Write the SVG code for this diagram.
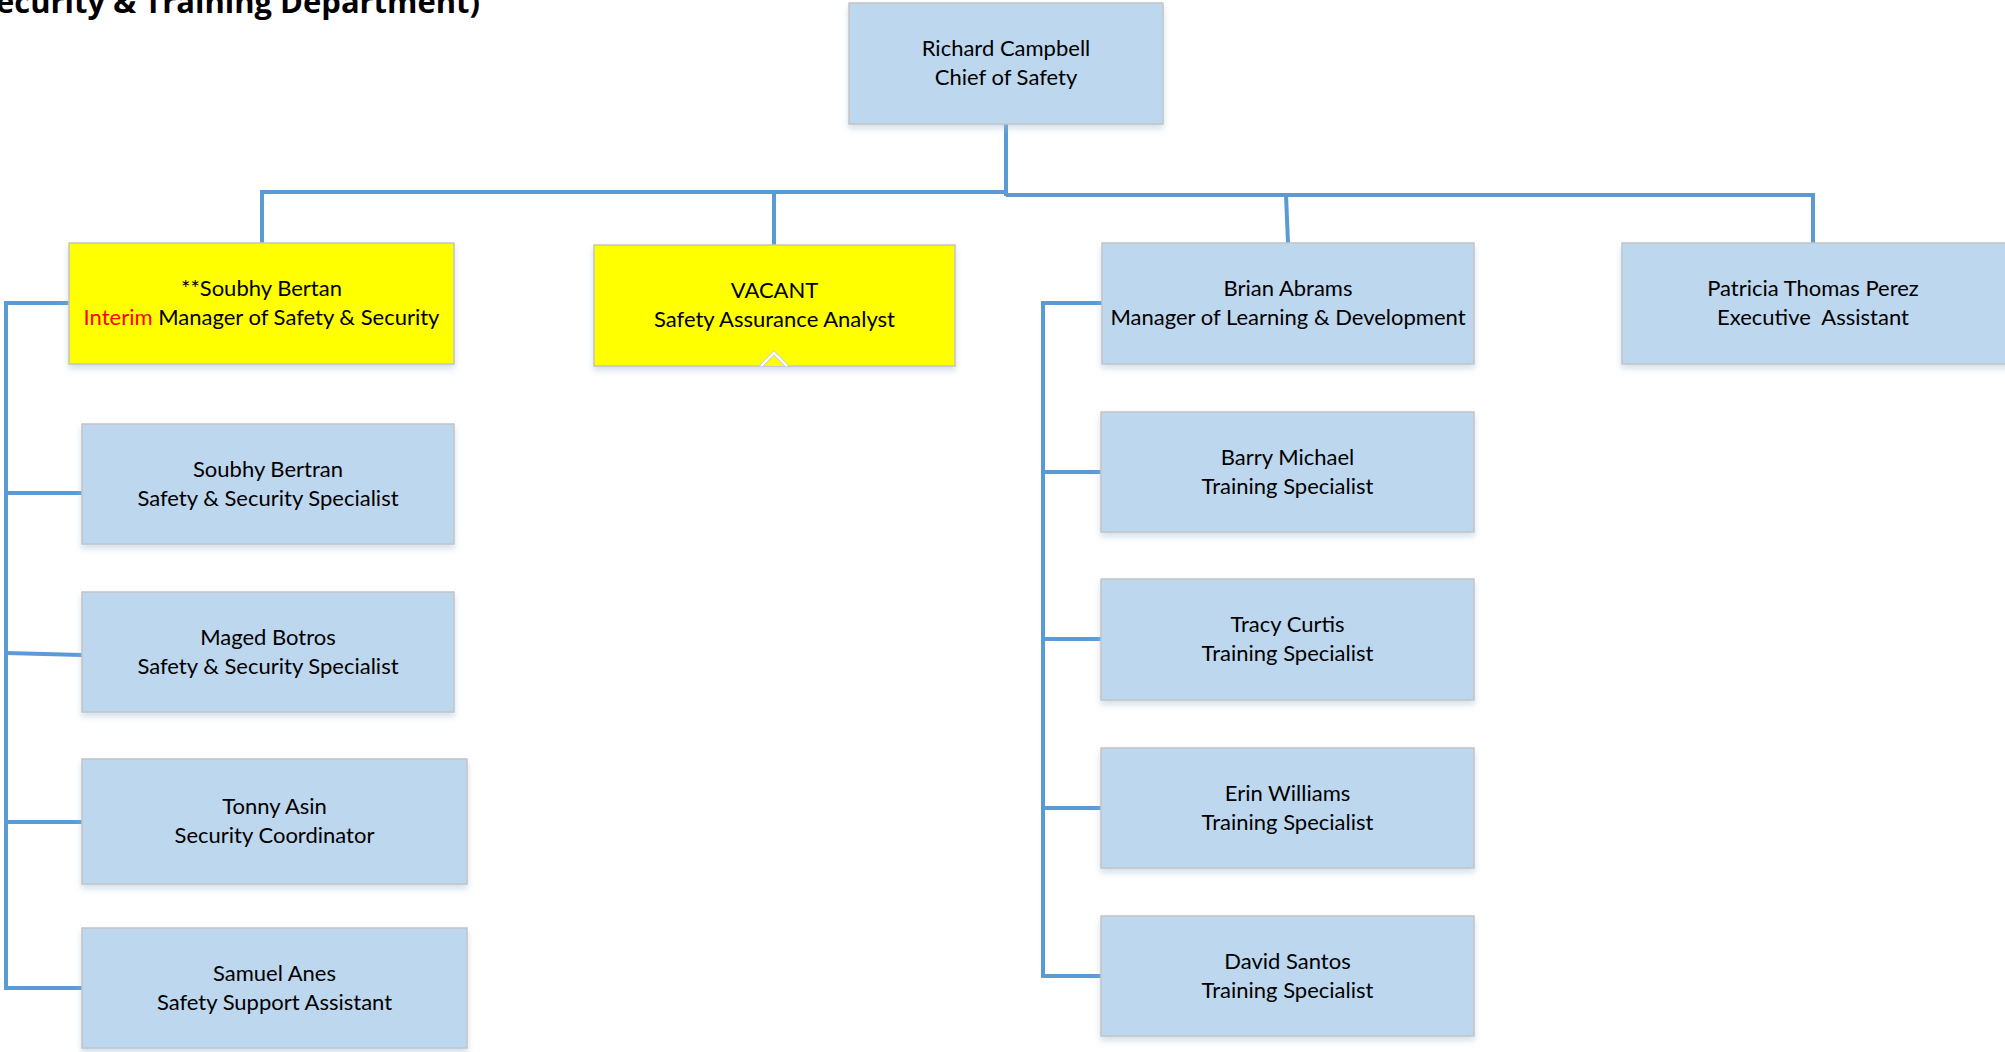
<svg xmlns="http://www.w3.org/2000/svg" width="2005" height="1052" viewBox="0 0 2005 1052">
<defs>
<filter id="sh" x="-5%" y="-5%" width="110%" height="125%">
<feDropShadow dx="0" dy="4" stdDeviation="3" flood-color="#9DB9D5" flood-opacity="0.45"/>
</filter>
<style>
.box{fill:#BDD7EE;stroke:#C4C4C4;stroke-width:1.5;filter:url(#sh)}
.ybox{fill:#FFFF00;stroke:#C4C4C4;stroke-width:1.5;filter:url(#sh)}
.t{font-family:Lato,"Open Sans","Liberation Sans",sans-serif;font-size:22px;fill:#000;text-anchor:middle}
.c{fill:none;stroke:#5B9BD5;stroke-width:4;stroke-linejoin:miter}
.title{font-family:"Open Sans","Liberation Sans",sans-serif;font-weight:bold;font-size:30px;fill:#000}
</style>
</defs>
<rect width="2005" height="1052" fill="#FFFFFF"/>
<text class="title" x="-4" y="13" textLength="484" lengthAdjust="spacingAndGlyphs">ecurity &amp; Training Department)</text>

<g id="connectors">
<path class="c" d="M1006,124 V196"/>
<path class="c" d="M262,243 V192 H1006"/>
<path class="c" d="M1006,195 H1813 V243"/>
<path class="c" d="M774,192 V245"/>
<path class="c" d="M1286,195 L1288,243"/>
<path class="c" d="M69,303 H6 V988 H82"/>
<path class="c" d="M6,493 H82"/>
<path class="c" d="M6,653 L82,655"/>
<path class="c" d="M6,822 H82"/>
<path class="c" d="M1102,303 H1043 V976 H1101"/>
<path class="c" d="M1043,472 H1101"/>
<path class="c" d="M1043,639 H1101"/>
<path class="c" d="M1043,808 H1101"/>
</g>

<g id="richard">
<rect class="box" x="849" y="3" width="314" height="121"/>
<text class="t" x="1006" y="56">Richard Campbell</text>
<text class="t" x="1006" y="85">Chief of Safety</text>
</g>
<g id="soubhy-manager">
<rect class="ybox" x="69" y="243" width="385" height="121"/>
<text class="t" x="261.5" y="296">**Soubhy Bertan</text>
<text class="t" x="261.5" y="325"><tspan fill="#FF0000">Interim</tspan> Manager of Safety &amp; Security</text>
</g>
<g id="vacant">
<rect class="ybox" x="594" y="245" width="361" height="121"/>
<polyline points="761,366 774,353 787,366" fill="#FFFF00" stroke="#CFCFCF" stroke-width="4"/>
<polyline points="761,366 774,353 787,366" fill="none" stroke="#FFFFFF" stroke-width="2"/>
<text class="t" x="774.5" y="298">VACANT</text>
<text class="t" x="774.5" y="327">Safety Assurance Analyst</text>
</g>
<g id="brian">
<rect class="box" x="1102" y="243" width="372" height="121"/>
<text class="t" x="1288" y="296">Brian Abrams</text>
<text class="t" x="1288" y="325">Manager of Learning &amp; Development</text>
</g>
<g id="patricia">
<rect class="box" x="1622" y="243" width="395" height="121"/>
<text class="t" x="1813" y="296">Patricia Thomas Perez</text>
<text class="t" x="1813" y="325" xml:space="preserve">Executive  Assistant</text>
</g>
<g id="soubhy-specialist">
<rect class="box" x="82" y="424" width="372" height="120"/>
<text class="t" x="268" y="477">Soubhy Bertran</text>
<text class="t" x="268" y="506">Safety &amp; Security Specialist</text>
</g>
<g id="maged">
<rect class="box" x="82" y="592" width="372" height="120"/>
<text class="t" x="268" y="645">Maged Botros</text>
<text class="t" x="268" y="674">Safety &amp; Security Specialist</text>
</g>
<g id="tonny">
<rect class="box" x="82" y="759" width="385" height="125"/>
<text class="t" x="274.5" y="814">Tonny Asin</text>
<text class="t" x="274.5" y="843">Security Coordinator</text>
</g>
<g id="samuel">
<rect class="box" x="82" y="928" width="385" height="120"/>
<text class="t" x="274.5" y="981">Samuel Anes</text>
<text class="t" x="274.5" y="1010">Safety Support Assistant</text>
</g>
<g id="barry">
<rect class="box" x="1101" y="412" width="373" height="120"/>
<text class="t" x="1287.5" y="465">Barry Michael</text>
<text class="t" x="1287.5" y="494">Training Specialist</text>
</g>
<g id="tracy">
<rect class="box" x="1101" y="579" width="373" height="121"/>
<text class="t" x="1287.5" y="632">Tracy Curtis</text>
<text class="t" x="1287.5" y="661">Training Specialist</text>
</g>
<g id="erin">
<rect class="box" x="1101" y="748" width="373" height="120"/>
<text class="t" x="1287.5" y="801">Erin Williams</text>
<text class="t" x="1287.5" y="830">Training Specialist</text>
</g>
<g id="david">
<rect class="box" x="1101" y="916" width="373" height="120"/>
<text class="t" x="1287.5" y="969">David Santos</text>
<text class="t" x="1287.5" y="998">Training Specialist</text>
</g>
</svg>
